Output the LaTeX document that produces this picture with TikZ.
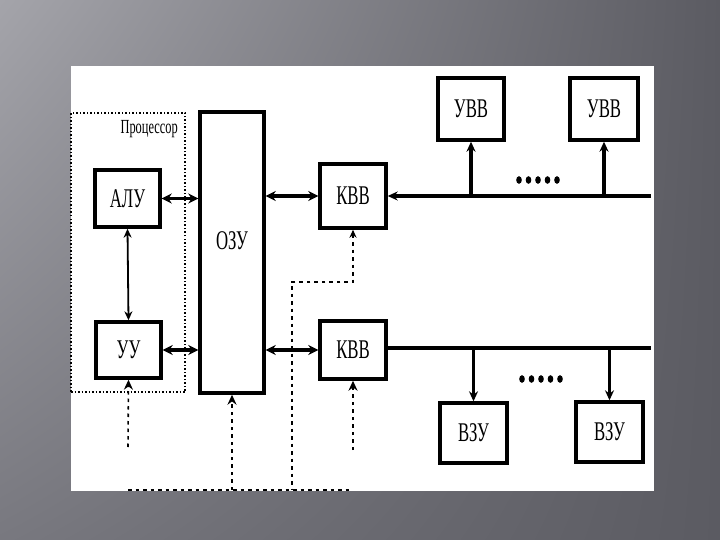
\documentclass[tikz,border=0pt]{standalone}
\usepackage{fontspec}
\setmainfont{Liberation Serif}[FakeStretch=0.62]
\usetikzlibrary{arrows.meta,shadings}
\definecolor{fonClaro}{HTML}{A4A4AA}
\definecolor{fonMedio}{HTML}{78787F}
\definecolor{fonOscuro}{HTML}{5B5B62}
\begin{document}
\begin{tikzpicture}[x=1pt, y=-1pt,
      b/.style 2 args={draw, line width=3.4pt, fill=white, inner sep=0pt,
                minimum width=#1pt, minimum height=#2pt,
                font=\fontsize{27}{29}\selectfont},
      lbl/.style={font=\fontsize{27}{29}\selectfont},
      tip/.style={-{Stealth[length=10pt,width=9pt]}},
      dbl/.style={line width=3.2pt, {Stealth[length=10pt,width=10pt]}-{Stealth[length=10pt,width=10pt]}},
      bus/.style={line width=3.4pt},
      ctl/.style={line width=1.6pt, dash pattern=on 3.5pt off 4pt}]
    \shade[upper left=fonClaro, upper right=fonOscuro, lower left=fonMedio, lower right=fonOscuro]
      (0,0) rectangle (720,540);
    \fill[white] (71,66) rectangle (654,491);

    \node[draw, line width=1.5pt, dotted, minimum width=114pt, minimum height=279pt] (cpu) at (128,252.5) {};
    \node[anchor=north east, font=\fontsize{20}{21}\selectfont, inner sep=0pt] (proc) at (178,120) {Процессор};

    \node[b={65}{57}]  (alu)  at (127.5,198.5) {АЛУ};
    \node[b={65}{56}]  (uu)   at (128.5,350)   {УУ};
    \node[b={64}{281}, label={[lbl, yshift=12pt]center:ОЗУ}] (ozu) at (232,252.5) {};
    \node[b={66}{64}]  (kvvA) at (353,196)     {КВВ};
    \node[b={66}{58}]  (kvvB) at (353,350)     {КВВ};
    \node[b={66}{62}]  (uvvA) at (471,109)     {УВВ};
    \node[b={68}{62}]  (uvvB) at (604,109)     {УВВ};
    \node[b={67}{60}]  (vzuA) at (473.5,433)   {ВЗУ};
    \node[b={67}{60}]  (vzuB) at (609.5,432)   {ВЗУ};

    \coordinate (busA) at (651,196);
    \coordinate (busB) at (651,348);
    \coordinate (knee) at (292,282);
    \coordinate (ozuIn) at (232,490);
    \coordinate (uuIn) at (128,447);
    \coordinate (kvvIn) at (353,450);
    \coordinate (lineL) at (128,490);
    \coordinate (lineR) at (351,490);

    \draw[dbl] (alu.east) -- (alu.east -| ozu.west);
    \draw[dbl] (uu.east) -- (uu.east -| ozu.west);
    \draw[dbl] (kvvA.west -| ozu.east) -- (kvvA.west);
    \draw[dbl] (kvvB.west -| ozu.east) -- (kvvB.west);
    \draw[line width=1.8pt, {Stealth[length=9pt,width=8pt]}-{Stealth[length=9pt,width=8pt]}] (alu.south) -- (uu.north);

    \draw[bus, tip] (busA) -- (kvvA.east);
    \draw[bus, tip] (uvvA.south |- busA) -- (uvvA.south);
    \draw[bus, tip] (uvvB.south |- busA) -- (uvvB.south);
    \draw[bus] (kvvB.east |- busB) -- (busB);
    \draw[line width=2.4pt, tip] (vzuA.north |- busB) -- (vzuA.north);
    \draw[line width=2.4pt, tip] (vzuB.north |- busB) -- (vzuB.north);

    \foreach \i in {0,...,4} {
      \fill (519+\i*9.5,180) ellipse (2.8pt and 3.8pt);
      \fill (522+\i*9.5,379) ellipse (2.8pt and 3.8pt);
    }

    \draw[ctl, {Stealth[length=8pt,width=7pt]}-] (kvvA.south) |- (knee) -- (knee |- lineL);
    \draw[ctl, tip] (ozuIn) -- (ozu.south);
    \draw[ctl, tip] (uuIn) -- (uu.south);
    \draw[ctl, tip] (kvvIn) -- (kvvB.south);
    \draw[ctl] (lineL) -- (lineR);
  \end{tikzpicture}
\end{document}
